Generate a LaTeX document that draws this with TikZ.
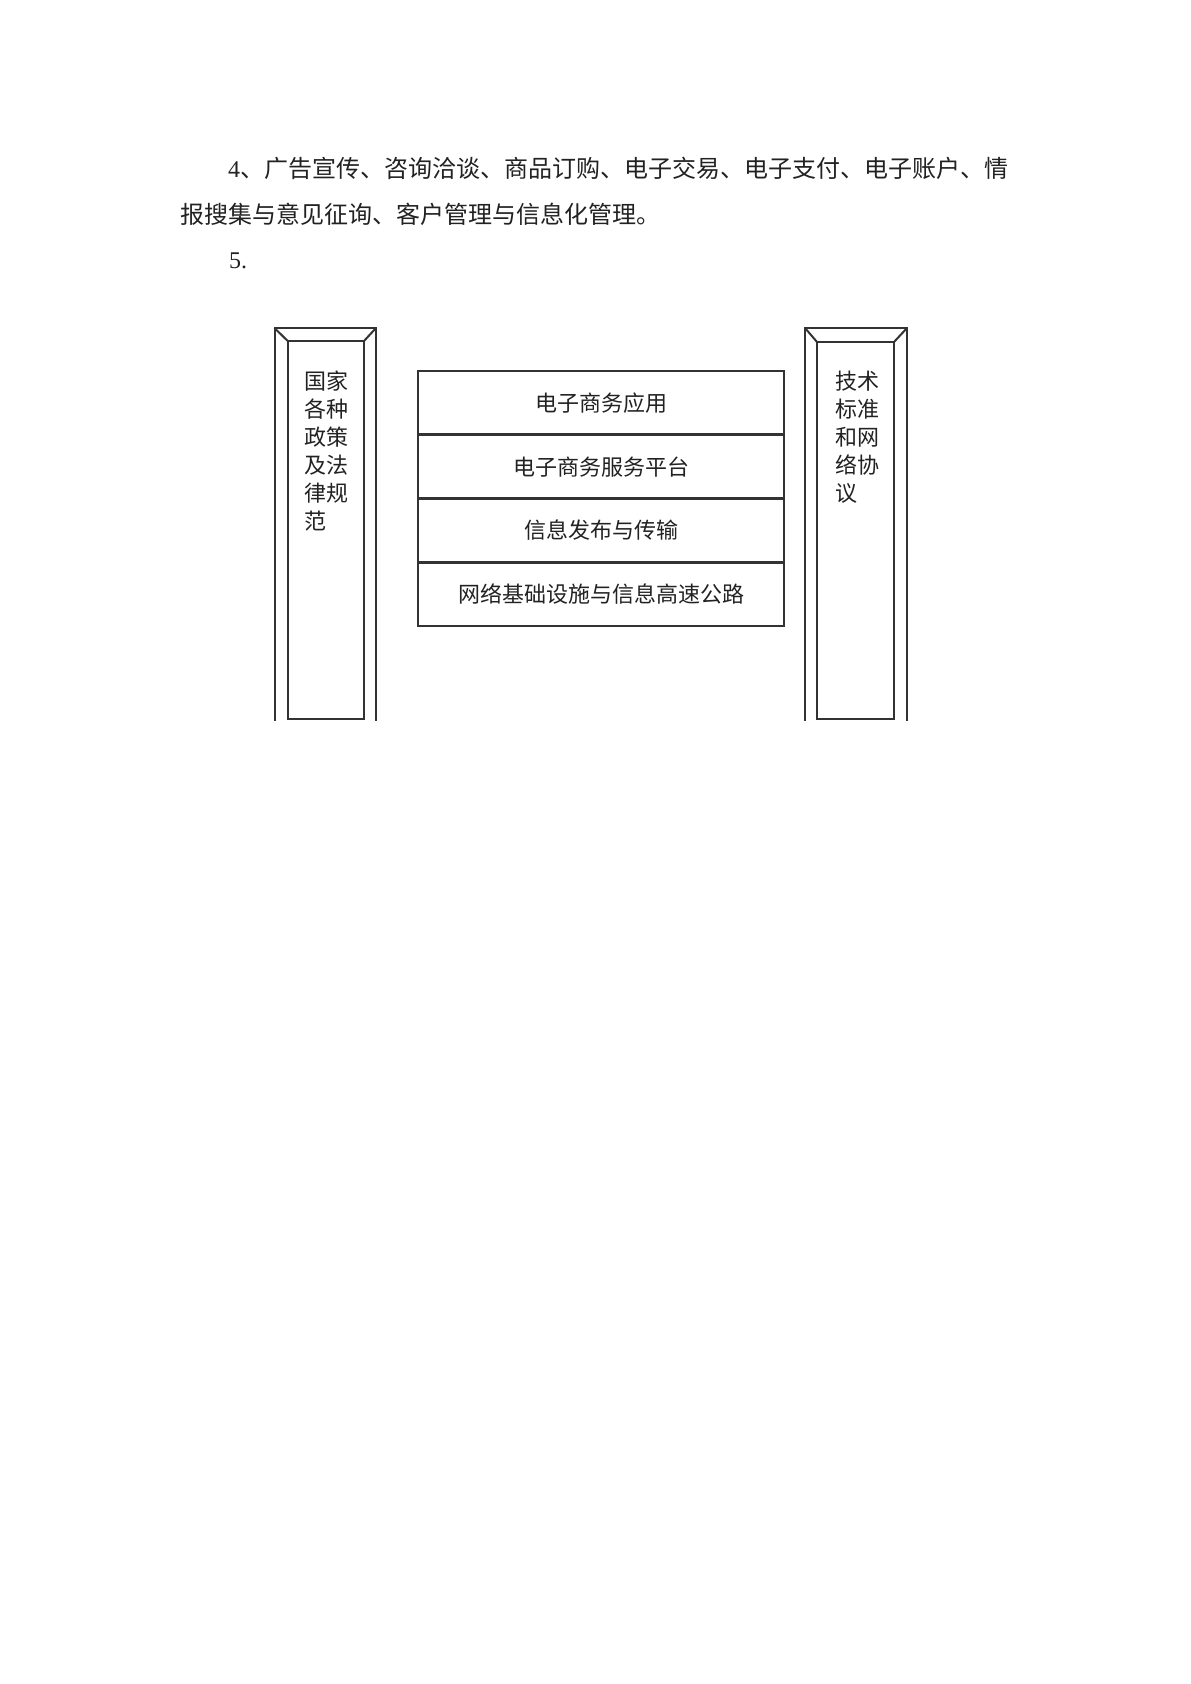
\documentclass[tikz,border=0pt]{standalone}
\usepackage{fontspec}
\setmainfont{Liberation Serif}
\newfontfamily\cjk{Noto Sans CJK SC}
\definecolor{ink}{HTML}{222222}
\definecolor{linec}{HTML}{333333}
\begin{document}
\begin{tikzpicture}[x=1pt,y=-1pt,
  para/.style={inner sep=0pt,outer sep=0pt,text=ink,font=\fontsize{24}{30}\selectfont},
  layer/.style={draw=linec,line width=2.6pt,minimum width=366pt,minimum height=63.75pt,inner sep=0pt,text=ink,font=\cjk\fontsize{22}{26}\selectfont},
  pillar/.style={draw=linec,line width=2pt},
  ptext/.style={inner sep=0pt,outer sep=0pt,align=left,text=ink,font=\cjk\fontsize{22}{28}\selectfont}]
\useasboundingbox[fill=white] (0,0) rectangle (1191,1684);
% paragraph text
\node[para,anchor=base west] (l1) at (228,177) {4{\cjk 、广告宣传、咨询洽谈、商品订购、电子交易、电子支付、电子账户、情}};
\node[para,anchor=base west] (l2) at (180,223) {\cjk 报搜集与意见征询、客户管理与信息化管理。};
\node[para,anchor=base west] (l3) at (229,268) {5.};
% middle layers
\node[layer] (app) at (601,402.875) {电子商务应用};
\node[layer] (svc) at (601,466.625) {电子商务服务平台};
\node[layer] (inf) at (601,530.375) {信息发布与传输};
\node[layer] (net) at (601,594.125) {网络基础设施与信息高速公路};
% left pillar
\draw[pillar] (274.5,721) -- (274.5,328) -- (376,328) -- (376,721);
\draw[pillar] (287.7,341) rectangle (364,719);
\draw[pillar] (274.5,328) -- (287.7,341);
\draw[pillar] (376,328) -- (364,341);
\node[ptext,anchor=north west] (ltext) at (304,371) {国家\\各种\\政策\\及法\\律规\\范};
% right pillar
\draw[pillar] (805,721) -- (805,328) -- (907,328) -- (907,721);
\draw[pillar] (817,342) rectangle (894,719);
\draw[pillar] (805,328) -- (817,342);
\draw[pillar] (907,328) -- (894,342);
\node[ptext,anchor=north west] (rtext) at (835,371) {技术\\标准\\和网\\络协\\议};
\end{tikzpicture}
\end{document}
